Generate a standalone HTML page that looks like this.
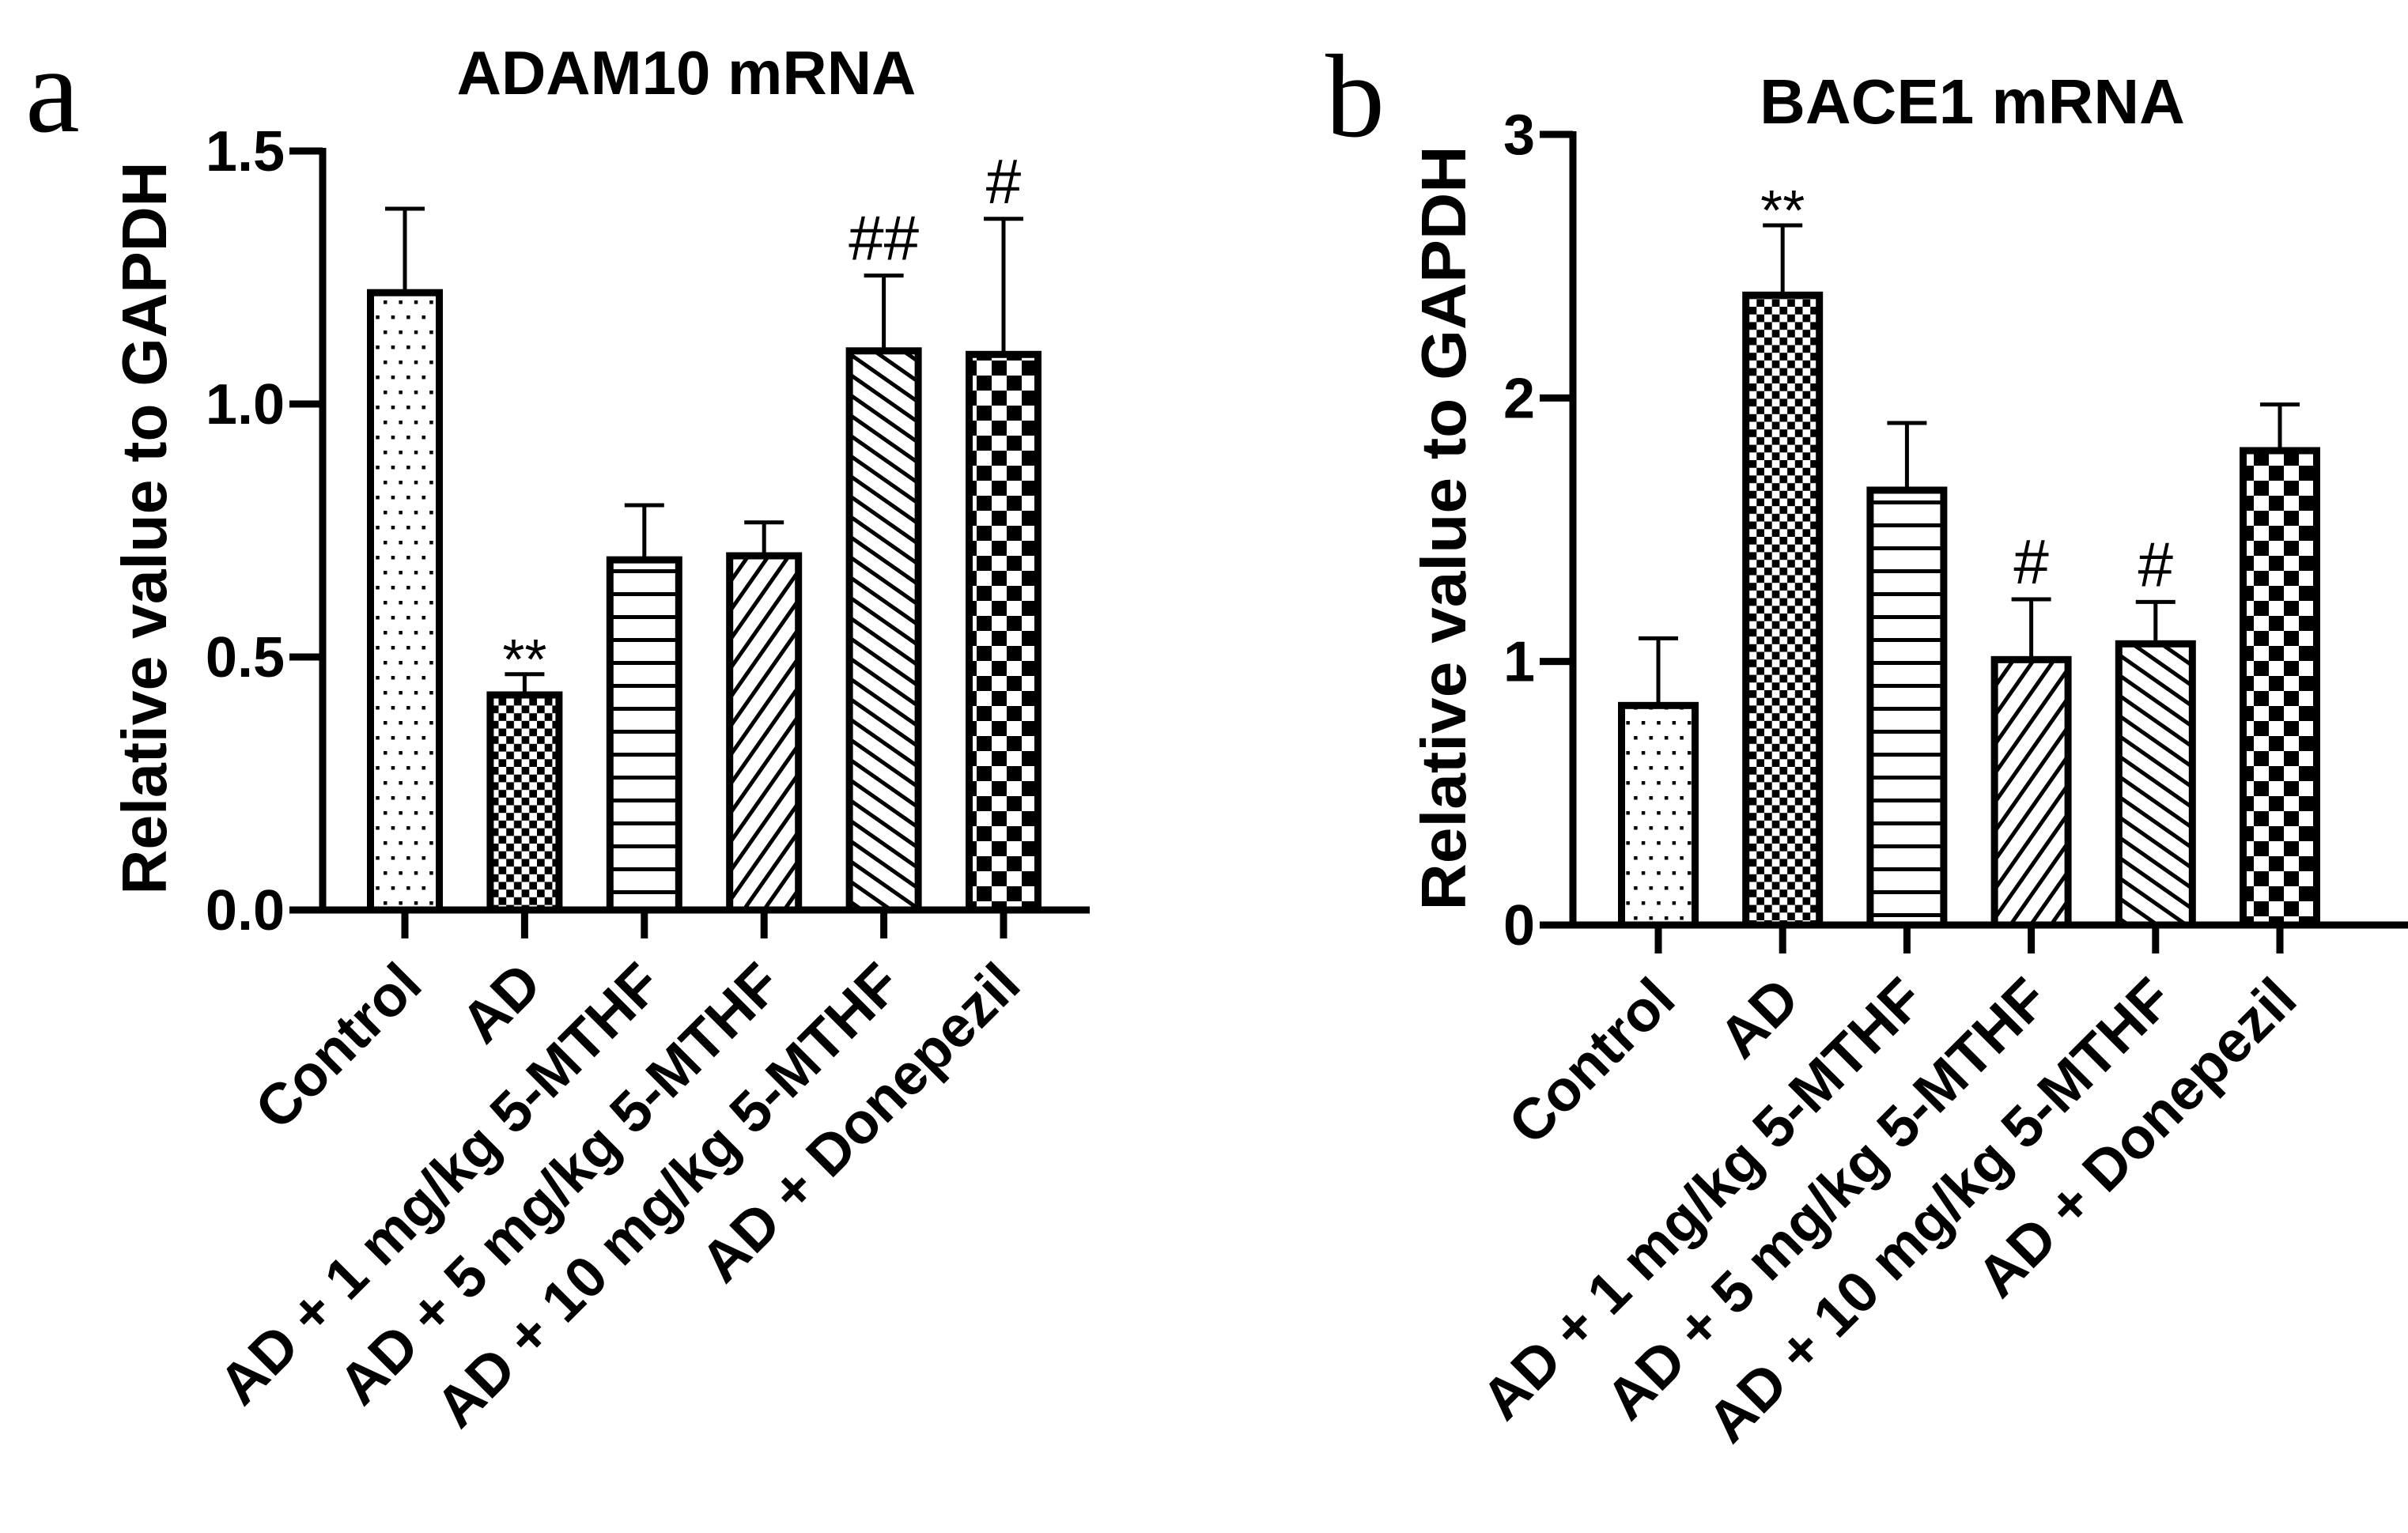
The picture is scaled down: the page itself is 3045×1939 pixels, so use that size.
<!DOCTYPE html>
<html>
<head>
<meta charset="utf-8">
<style>
  html, body { margin: 0; padding: 0; background: #fff; }
  svg { display: block; }
  text { font-family: "Liberation Sans", Arial, sans-serif; fill: #000; }
</style>
</head>
<body>
<svg id="fig" width="3045" height="1939" viewBox="0 0 3045 1939" xmlns="http://www.w3.org/2000/svg">
  <defs>
    <pattern id="p-dots" patternUnits="userSpaceOnUse" width="19.4" height="38">
      <rect x="0" y="0" width="4.5" height="4.5" fill="#000"/>
      <rect x="9.7" y="19" width="4.5" height="4.5" fill="#000"/>
    </pattern>
    <pattern id="p-finecheck" patternUnits="userSpaceOnUse" width="19.4" height="19.4">
      <rect x="0" y="0" width="9.7" height="9.7" fill="#000"/>
      <rect x="9.7" y="9.7" width="9.7" height="9.7" fill="#000"/>
    </pattern>
    <pattern id="p-hlines" patternUnits="userSpaceOnUse" width="20" height="29">
      <rect x="0" y="24" width="20" height="5" fill="#000"/>
    </pattern>
    <pattern id="p-fwd" patternUnits="userSpaceOnUse" width="21" height="21" patternTransform="rotate(-55)">
      <rect x="0" y="0" width="21" height="5" fill="#000"/>
    </pattern>
    <pattern id="p-back" patternUnits="userSpaceOnUse" width="21" height="21" patternTransform="rotate(35)">
      <rect x="0" y="0" width="21" height="5" fill="#000"/>
    </pattern>
    <pattern id="p-bigcheck" patternUnits="userSpaceOnUse" width="38" height="38">
      <rect x="0" y="0" width="19" height="19" fill="#000"/>
      <rect x="19" y="19" width="19" height="19" fill="#000"/>
    </pattern>
  </defs>

  <text x="32" y="166" style="font-family:'Liberation Serif',serif" font-size="155">a</text>
  <text x="1676" y="172" style="font-family:'Liberation Serif',serif" font-size="150">b</text>

  <text x="868" y="119" font-size="78" font-weight="bold" text-anchor="middle">ADAM10 mRNA</text>
  <text x="2494" y="156" font-size="80" font-weight="bold" text-anchor="middle">BACE1 mRNA</text>

  <text transform="translate(210,668) rotate(-90)" font-size="80" font-weight="bold" text-anchor="middle" textLength="927" lengthAdjust="spacingAndGlyphs">Relative value to GAPDH</text>
  <text transform="translate(1853,668) rotate(-90)" font-size="80" font-weight="bold" text-anchor="middle" textLength="967" lengthAdjust="spacingAndGlyphs">Relative value to GAPDH</text>

  <g id="chartA"></g>
  <g id="chartB"></g>
</svg>

<script>
// ---------- data ----------
const categories = ["Control", "AD", "AD + 1 mg/kg 5-MTHF", "AD + 5 mg/kg 5-MTHF", "AD + 10 mg/kg 5-MTHF", "AD + Donepezil"];
const adam10Values = [1.22, 0.425, 0.692, 0.70, 1.105, 1.098];
const adam10Errors = [0.166, 0.041, 0.108, 0.066, 0.149, 0.268];
const adam10Marks = ["", "**", "", "", "##", "#"];
const adam10Ticks = [0, 0.5, 1.0, 1.5];
const adam10TickLabels = ["0.0", "0.5", "1.0", "1.5"];
const bace1Values = [0.833, 2.39, 1.65, 1.007, 1.067, 1.80];
const bace1Errors = [0.255, 0.265, 0.255, 0.229, 0.159, 0.175];
const bace1Marks = ["", "**", "", "#", "#", ""];
const bace1Ticks = [0, 1, 2, 3];
const bace1TickLabels = ["0", "1", "2", "3"];

const NS = "http://www.w3.org/2000/svg";
const patternsA = ["p-dots", "p-finecheck", "p-hlines", "p-fwd", "p-back", "p-bigcheck"];
const patternsB = ["p-dots", "p-finecheck", "p-hlines", "p-fwd", "p-back", "p-bigcheck"];

function mk(tag, attrs, parent) {
  const e = document.createElementNS(NS, tag);
  for (const k in attrs) e.setAttribute(k, attrs[k]);
  parent.appendChild(e);
  return e;
}

function drawChart(g, cfg, values, errors, marks, ticks, tickLabels, patterns, prefix) {
  const yScale = v => cfg.y0 - (v - cfg.yMin) / (cfg.yMax - cfg.yMin) * (cfg.y0 - cfg.yTop);
  const xScale = i => cfg.firstX + i * cfg.step;

  values.forEach((v, i) => {
    const cx = xScale(i);
    const top = yScale(v);
    const half = cfg.barW / 2 - 4.5;
    const bar = mk("rect", {x: cx - half, y: top, width: half * 2, height: cfg.y0 - top,
      fill: "url(#" + patterns[i] + ")", stroke: "#000", "stroke-width": 9}, g);
    
    
    const et = yScale(v + errors[i]);
    const eb = mk("path", {d: "M" + cx + " " + (top - 4) + " V" + et + " M" + (cx - 25) + " " + et + " H" + (cx + 25),
      stroke: "#000", "stroke-width": 5, fill: "none"}, g);
    
    
    if (marks[i]) {
      const isStar = marks[i].indexOf("*") >= 0;
      const t = mk("text", {x: cx, y: isStar ? et + 6 : et - 20, "font-size": isStar ? 72 : 80, "text-anchor": "middle"}, g);
      t.textContent = marks[i];
      
      
    }
    const tk = mk("line", {x1: cx, y1: cfg.y0, x2: cx, y2: cfg.y0 + 36, stroke: "#000", "stroke-width": 9}, g);
    
    
    const lx = cx + 25, ly = cfg.y0 + 98;
    const lb = mk("text", {x: lx, y: ly, "font-size": 73, "font-weight": "bold", "text-anchor": "end",
      transform: "rotate(-45 " + lx + " " + ly + ")"}, g);
    lb.textContent = categories[i];
    
    
  });

  const ya = mk("line", {x1: cfg.axisX, y1: cfg.yTop - 4, x2: cfg.axisX, y2: cfg.y0 + 4.5, stroke: "#000", "stroke-width": 9}, g);
  
  
  const xa = mk("line", {x1: cfg.axisX - 4.5, y1: cfg.y0, x2: cfg.axisEnd, y2: cfg.y0, stroke: "#000", "stroke-width": 9}, g);
  
  

  ticks.forEach((t, i) => {
    const y = yScale(t);
    const tl = mk("line", {x1: cfg.axisX - 42, y1: y, x2: cfg.axisX, y2: y, stroke: "#000", "stroke-width": 9}, g);
    
    
    const lab = mk("text", {x: cfg.axisX - 48, y: y + 25, "font-size": 72, "font-weight": "bold", "text-anchor": "end"}, g);
    lab.textContent = tickLabels[i];
    
    
  });
}

drawChart(document.getElementById("chartA"),
  {axisX: 408, axisEnd: 1378, y0: 1151, yTop: 191, yMin: 0, yMax: 1.5, firstX: 512, step: 151.4, barW: 96},
  adam10Values, adam10Errors, adam10Marks, adam10Ticks, adam10TickLabels, patternsA, "chart-a");

drawChart(document.getElementById("chartB"),
  {axisX: 1989, axisEnd: 3394, y0: 1170, yTop: 170, yMin: 0, yMax: 3, firstX: 2097, step: 157.2, barW: 102},
  bace1Values, bace1Errors, bace1Marks, bace1Ticks, bace1TickLabels, patternsB, "chart-b");
</script>
</body>
</html>
